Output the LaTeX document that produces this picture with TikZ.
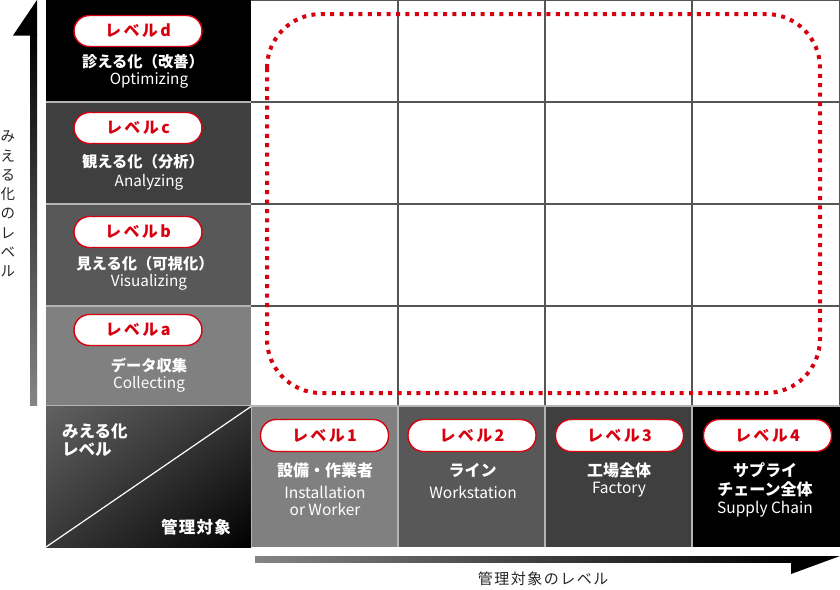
\documentclass[tikz,border=0pt]{standalone}
\usepackage{fontspec}
\setmainfont{Noto Sans CJK JP}
\usetikzlibrary{shadings}
\definecolor{lvred}{HTML}{D7000F}
\definecolor{ca}{HTML}{808080}
\definecolor{cb}{HTML}{585858}
\definecolor{cc}{HTML}{3F3F3F}
\definecolor{gridc}{HTML}{555555}
\definecolor{sepc}{HTML}{B4B4B4}
\newcommand{\pl}[4]{#1\kern2.4pt#2\kern2.4pt#3\kern2.4pt#4}
\begin{document}
\begin{tikzpicture}[x=1pt,y=-1pt,
  pill/.style={draw=lvred, line width=1.4pt, fill=white, rounded corners=15.5pt,
    minimum width=128pt, minimum height=31pt, inner sep=0pt, text=lvred,
    font=\bfseries\fontsize{16}{16}\selectfont},
  jp/.style={text=white, inner sep=0pt, align=center, font=\bfseries\fontsize{15.3}{19}\selectfont},
  en/.style={text=white, inner sep=0pt, align=center, font=\fontsize{15.3}{17}\selectfont},
  sep/.style={draw=sepc, line width=1.6pt},
  gridl/.style={draw=gridc, line width=1.2pt},
  axislbl/.style={text=black!85, inner sep=0pt, align=center},
]
\useasboundingbox (0,0) rectangle (840,589);
\fill[white] (0,0) rectangle (840,589);

% grid in white area
\draw[gridl] (251,0.6) -- (840,0.6);
\draw[gridl] (839.4,0) -- (839.4,406);
\foreach \yy in {102,204,306} \draw[gridl] (251,\yy) -- (840,\yy);
\foreach \xx in {398,545,692} \draw[gridl] (\xx,0) -- (\xx,406);

% left column cells
\fill[black] (46,0) rectangle (251,102);
\fill[cc] (46,102) rectangle (251,204);
\fill[cb] (46,204) rectangle (251,306);
\fill[ca] (46,306) rectangle (251,406);
\draw[sep] (46,102) -- (251,102);
\draw[sep] (46,204) -- (251,204);
\draw[sep] (46,306) -- (251,306);
\draw[sep] (46,406) -- (840,406);

% bottom row cells
\shade[upper left=black!62, upper right=black!80, lower left=black!78, lower right=black] (46,406.8) rectangle (251,547);
\fill[ca] (252,406.8) rectangle (398,547);
\fill[cb] (398,406.8) rectangle (545,547);
\fill[cc] (545,406.8) rectangle (692,547);
\fill[black] (692,406.8) rectangle (840,547);
\draw[sep] (251.5,406) -- (251.5,547);
\draw[sep] (398,406) -- (398,547);
\draw[sep] (545,406) -- (545,547);
\draw[sep] (692,406) -- (692,547);
\coordinate (dgA) at (46,547);
\coordinate (dgB) at (251,406.5);
\draw[white, line width=1.2pt] (dgA) -- (dgB);

% dotted rounded frame
\draw[lvred, line width=4pt, dash pattern=on 4pt off 5.4pt, rounded corners=54pt] (267,14) rectangle (820,393);

% vertical axis arrow
\shade[top color=black, bottom color=black!48] (30,34) rectangle (37,405);
\fill[black] (13,35.5) -- (37,0) -- (37,35.5) -- cycle;
% horizontal axis arrow
\shade[left color=black!48, right color=black] (255,556) rectangle (792,562);
\fill[black] (791,556) -- (840,556) -- (791,574) -- cycle;

% axis labels
\node[axislbl, font=\fontsize{14.5}{19.3}\selectfont] (yl) at (8,204) {み\\え\\る\\化\\の\\レ\\ベ\\ル};
\node[axislbl, font=\fontsize{15}{15}\selectfont] (xl) at (543,579) {管\kern1.5pt理\kern1.5pt対\kern1.5pt象\kern1.5ptの\kern1.5ptレ\kern1.5ptベ\kern1.5ptル};

% row d
\node[pill] (pd) at (138,31) {\pl{レ}{ベ}{ル}{d}};
\node[jp] (jd) at (143,62) {診える化（改善）};
\node[en] (ed) at (149,80.5) {Optimizing};
% row c
\node[pill] (pc) at (138,128) {\pl{レ}{ベ}{ル}{c}};
\node[jp] (jc) at (143,162) {観える化（分析）};
\node[en] (ec) at (149,182.5) {Analyzing};
% row b
\node[pill] (pb) at (138,232) {\pl{レ}{ベ}{ル}{b}};
\node[jp] (jb) at (145,263.5) {見える化（可視化）};
\node[en] (eb) at (149,282.5) {Visualizing};
% row a
\node[pill] (pa) at (138,330) {\pl{レ}{ベ}{ル}{a}};
\node[jp] (ja) at (149,365.5) {データ収集};
\node[en] (ea) at (149,384) {Collecting};

% corner labels
\node[text=white, inner sep=0pt, align=left, anchor=west, font=\bfseries\fontsize{16.5}{18}\selectfont] (cl1) at (62,440) {みえる化\\レベル};
\node[text=white, inner sep=0pt, font=\bfseries\fontsize{16.5}{16}\selectfont] (cl2) at (196,527) {管\kern1.2pt理\kern1.2pt対\kern1.2pt象};

% bottom columns
\node[pill, minimum height=32pt] (p1) at (324.5,435.5) {\pl{レ}{ベ}{ル}{1}};
\node[jp, font=\bfseries\fontsize{16}{19}\selectfont] (j1) at (325,470) {設備・作業者};
\node[en, font=\fontsize{15.5}{17}\selectfont] (e1) at (325,501) {Installation\\or Worker};

\node[pill, minimum height=32pt] (p2) at (472,435.5) {\pl{レ}{ベ}{ル}{2}};
\node[jp, font=\bfseries\fontsize{16}{19}\selectfont] (j2) at (472.5,470) {ライン};
\node[en, font=\fontsize{15.5}{17}\selectfont] (e2) at (473,492.5) {Workstation};

\node[pill, minimum height=32pt] (p3) at (619.5,435.5) {\pl{レ}{ベ}{ル}{3}};
\node[jp, font=\bfseries\fontsize{16}{19}\selectfont] (j3) at (619,470) {工場全体};
\node[en, font=\fontsize{15.5}{17}\selectfont] (e3) at (619,490) {Factory};

\node[pill, minimum height=32pt] (p4) at (767.5,435.5) {\pl{レ}{ベ}{ル}{4}};
\node[jp, font=\bfseries\fontsize{16}{19}\selectfont] (j4) at (765,479.5) {サプライ\\チェーン全体};
\node[en, font=\fontsize{15.5}{17}\selectfont] (e4) at (765,509.5) {Supply Chain};
\end{tikzpicture}
\end{document}
